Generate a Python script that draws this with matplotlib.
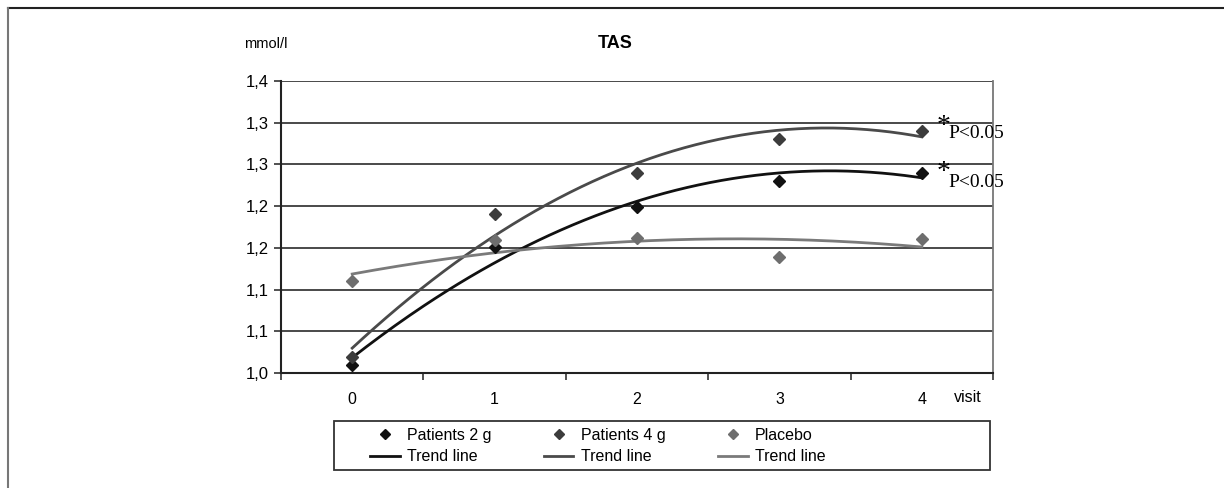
import matplotlib.pyplot as plt
import matplotlib.lines as mlines
import matplotlib.patches as mpatches
import numpy as np

# Datos (mmol/l por visita)
visitas = [0, 1, 2, 3, 4]
pacientes_2g = [1.010, 1.151, 1.199, 1.230, 1.240]
pacientes_4g = [1.019, 1.190, 1.240, 1.281, 1.290]
placebo = [1.110, 1.160, 1.162, 1.139, 1.161]

nombres = ['Patients 2 g', 'Patients 4 g', 'Placebo']
y_ticks = [1.00, 1.05, 1.10, 1.15, 1.20, 1.25, 1.30, 1.35]
y_labels = ['1,0', '1,1', '1,1', '1,2', '1,2', '1,3', '1,3', '1,4']

colores_marca = ['#111111', '#3c3c3c', '#6e6e6e']
colores_linea = ['#111111', '#4a4a4a', '#7a7a7a']

plt.rcParams['font.family'] = ['Liberation Sans', 'DejaVu Sans']

fig = plt.figure(figsize=(12.24, 4.88), dpi=100)
ax = fig.add_axes([281 / 1224, 1 - 373 / 488, 712 / 1224, 292 / 488])

# Marco exterior (solo arriba e izquierda)
fig.add_artist(mlines.Line2D([8 / 1224, 1], [1 - 8 / 488, 1 - 8 / 488], color='#222222', lw=1.5))
fig.add_artist(mlines.Line2D([8 / 1224, 8 / 1224], [0, 1 - 8 / 488], color='#777777', lw=1.5))

handles = []
x_fino = np.linspace(0, 4, 200)
for serie, nombre, cm, cl in zip([pacientes_2g, pacientes_4g, placebo], nombres, colores_marca, colores_linea):
    ax.plot(visitas, serie, linestyle='none', marker='D', markersize=6.5, color=cm, zorder=4)
    # Linea de tendencia polinomica de grado 2 (como en Excel)
    coef = np.polyfit(visitas, serie, 2)
    ax.plot(x_fino, np.polyval(coef, x_fino), color=cl, lw=2, zorder=3)
    h_m = mlines.Line2D([], [], linestyle='none', marker='D', markersize=5.5, color=cm, label=nombre)
    h_l = mlines.Line2D([], [], color=cl, lw=2, label='Trend line')
    handles += [h_m, h_l]

ax.set_xlim(-0.5, 4.5)
ax.set_ylim(1.0, 1.35)
ax.set_yticks(y_ticks)
ax.set_yticklabels(y_labels, fontsize=12)
ax.set_xticks(visitas)
ax.set_xticklabels([str(v) for v in visitas], fontsize=11.5)
ax.tick_params(axis='x', length=0, pad=14)
ax.set_xticks(np.arange(-0.5, 5, 1), minor=True)
ax.tick_params(axis='x', which='minor', length=5, width=1.2, color='#333333')
ax.tick_params(axis='y', length=5, width=1.2, color='#333333', pad=4)

ax.grid(axis='y', color='#3a3a3a', lw=1.3, zorder=1)
for lado in ['left', 'bottom']:
    ax.spines[lado].set_color('#222222')
    ax.spines[lado].set_linewidth(1.5)
ax.spines['right'].set_color('#777777')
ax.spines['right'].set_linewidth(1.3)
ax.spines['top'].set_visible(False)

# Textos
fig.text(266 / 1224, 1 - 44 / 488, 'mmol/l', fontsize=10.5, ha='center', va='center')
fig.text(615 / 1224, 1 - 44 / 488, 'TAS', fontsize=13, fontweight='bold', ha='center', va='center')
fig.text(968 / 1224, 1 - 397 / 488, 'visit', fontsize=11.5, ha='center', va='center')

# Marcas de significancia
for y_ast, y_p in [(1.296, 1.287), (1.240, 1.228)]:
    ax.text(4.15, y_ast, '*', fontsize=20, fontfamily='Liberation Serif', ha='center', va='center', clip_on=False)
    ax.text(4.19, y_p, 'P<0.05', fontsize=14, fontfamily='Liberation Serif', ha='left', va='center', clip_on=False)

# Marco de la leyenda (mas ancho que su contenido, como en el original)
fig.add_artist(mpatches.Rectangle((334 / 1224, 1 - 470 / 488), 656 / 1224, 49 / 488,
                                  transform=fig.transFigure, fill=False, edgecolor='#333333', lw=1.3))

# Leyenda
leg = fig.legend(handles=handles, ncol=3, loc='upper left', bbox_to_anchor=(370 / 1224, 1 - 428 / 488),
                 fontsize=11.5, frameon=False, handlelength=1.85, handletextpad=0.45,
                 columnspacing=3.3, labelspacing=0.4, borderpad=0, borderaxespad=0)

plt.savefig('out.png', dpi=100)
